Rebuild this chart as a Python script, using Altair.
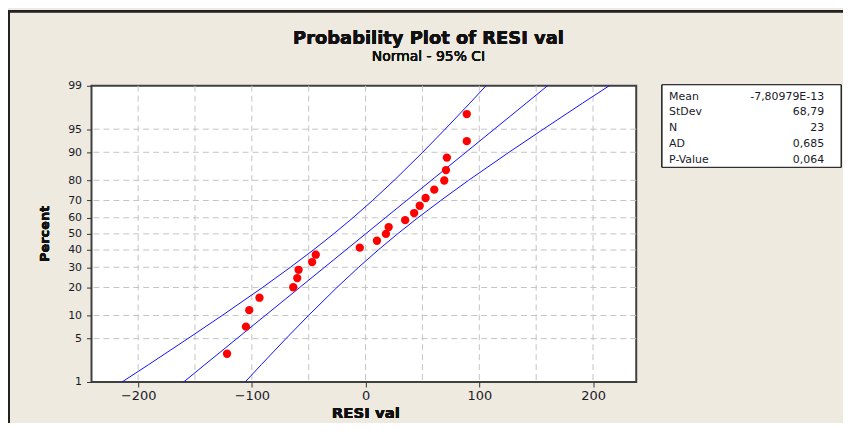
import altair as alt
import pandas as pd
from statistics import NormalDist

nd = NormalDist()

# ---- data ----
resi = [-121.8, -105.2, -102.3, -93.3, -63.6, -60.1, -58.9, -47.0, -43.8, -5.1,
        10.0, 17.9, 20.3, 34.8, 42.7, 47.6, 52.8, 60.4, 69.2, 70.7, 71.5, 89.0, 89.0]
pct = [2.99, 7.26, 11.54, 15.81, 20.09, 24.36, 28.63, 32.91, 37.18, 41.45, 45.73, 50.0,
       54.27, 58.55, 62.82, 67.09, 71.37, 75.64, 79.91, 84.19, 88.46, 92.74, 97.01]

ci_pct = [1, 2, 5, 10, 20, 30, 40, 50, 60, 70, 80, 90, 95, 98, 99]
ci_lower = [-214.2, -190.8, -156.3, -126.1, -90.6, -66.1, -46.0, -28.1, -11.1, 6.1, 25.2, 50.2, 70.0, 91.7, 105.9]
ci_fit = [-160.0, -141.3, -113.2, -88.2, -57.9, -36.1, -17.4, 0.0, 17.4, 36.1, 57.9, 88.2, 113.2, 141.3, 160.0]
ci_upper = [-105.9, -91.7, -70.0, -50.2, -25.2, -6.1, 11.1, 28.1, 46.0, 66.1, 90.6, 126.1, 156.3, 190.8, 214.2]

y_ticks = [1, 5, 10, 20, 30, 40, 50, 60, 70, 80, 90, 95, 99]
x_ticks = [-200, -100, 0, 100, 200]
x_grid = [-200, -150, -100, -50, 0, 50, 100, 150, 200]
y_grid = [5, 10, 20, 30, 40, 50, 60, 70, 80, 90, 95]

stat_labels = ["Mean", "StDev", "N", "AD", "P-Value"]
stat_values = ["-7,80979E-13", "68,79", "23", "0,685", "0,064"]

title_text = "Probability Plot of RESI val"
subtitle_text = "Normal - 95% CI"
x_title = "RESI val"
y_title = "Percent"

# ---- tables ----
def z(p):
    return nd.inv_cdf(p / 100.0)

pts = pd.DataFrame({"x": resi, "z": [z(p) for p in pct]})
rows = []
for name, xs in [("lower", ci_lower), ("fit", ci_fit), ("upper", ci_upper)]:
    for p, xv in zip(ci_pct, xs):
        rows.append({"series": name, "x": xv, "z": z(p)})
lines = pd.DataFrame(rows)
xg = pd.DataFrame({"x": x_grid})
yg = pd.DataFrame({"z": [z(p) for p in y_grid]})
stats = pd.DataFrame({"label": stat_labels, "value": stat_values,
                      "row": list(range(len(stat_labels)))})

FONT = "DejaVu Sans"
zmin, zmax = z(1), z(99)

xscale = alt.Scale(domain=[-241, 238], nice=False, zero=False)
yscale = alt.Scale(domain=[zmin, zmax], nice=False, zero=False)
xaxis = alt.Axis(values=x_ticks, grid=False, domain=False, title=None, tickSize=5,
                 tickColor="#333333", labelFont=FONT, labelFontSize=13, labelColor="#1a1a2a",
                 labelPadding=3)
yaxis = alt.Axis(values=[z(t) for t in y_ticks], grid=False, domain=False, title=None,
                 tickSize=5, tickColor="#333333", labelFont=FONT, labelFontSize=11,
                 labelColor="#1a1a2a", labelPadding=5,
                 labelExpr="'' + round(cumulativeNormal(datum.value) * 100)")
X = alt.X("x:Q", scale=xscale, axis=xaxis)
Y = alt.Y("z:Q", scale=yscale, axis=yaxis)

grid_style = dict(color="#c4c4c4", strokeDash=[6, 4], strokeWidth=1)
vgrid = alt.Chart(xg).mark_rule(**grid_style).encode(x=X)
hgrid = alt.Chart(yg).mark_rule(**grid_style).encode(y=Y)

ci = alt.Chart(lines).mark_line(color="#1010ff", strokeWidth=1).encode(
    x=X, y=Y, detail="series:N", order="z:Q")

points = alt.Chart(pts).mark_point(filled=True, shape="circle", size=70,
                                    color="#ff0000", opacity=1).encode(x=X, y=Y)

# stats box
box = alt.Chart(stats).mark_rect(fill="white", stroke="#222222", strokeWidth=1).encode(
    x=alt.value(574), x2=alt.value(754), y=alt.value(-1), y2=alt.value(82))
stat_lab = alt.Chart(stats).transform_calculate(py="11 + datum.row * 15.8").mark_text(
    align="left", baseline="middle", font=FONT, fontSize=11, color="#1a1a2a").encode(
    x=alt.value(581), y=alt.Y("py:Q", scale=None, axis=None), text="label:N")
stat_val = alt.Chart(stats).transform_calculate(py="11 + datum.row * 15.8").mark_text(
    align="right", baseline="middle", font=FONT, fontSize=11, color="#1a1a2a").encode(
    x=alt.value(737), y=alt.Y("py:Q", scale=None, axis=None), text="value:N")

def label(txt, x, y, size, bold=False, angle=0):
    kw = dict(align="center", baseline="middle", font=FONT, fontSize=size,
              color="#111111", fontWeight="bold" if bold else "normal")
    if angle:
        kw["angle"] = angle
    return alt.Chart(stats).mark_text(**kw).encode(
        x=alt.value(x), y=alt.value(y), text=alt.value(txt))

title = label(title_text, 339, -47, 18, bold=True)
subtitle = label(subtitle_text, 339, -29, 14)
xt = label(x_title, 276, 329, 15, bold=True)
yt = label(y_title, -47, 149, 13, bold=True, angle=270)

frame_top = alt.Chart(stats).mark_rule(color="#222222", strokeWidth=2).encode(
    x=alt.value(-84), x2=alt.value(760), y=alt.value(-75))
frame_left = alt.Chart(stats).mark_rule(color="#222222", strokeWidth=2).encode(
    x=alt.value(-83), y=alt.value(-76), y2=alt.value(340))

chart = alt.layer(
    vgrid, hgrid, ci, points, box, stat_lab, stat_val,
    title, subtitle, xt, yt, frame_top, frame_left
).properties(
    width=548, height=298,
    background="#eeeae0",
    padding={"left": 84, "top": 77, "right": 208, "bottom": 40},
    autosize="none",
).configure_view(fill="white", stroke="#404040", strokeWidth=2)

chart.save("out.html", embed_options={"renderer": "svg", "actions": False})
